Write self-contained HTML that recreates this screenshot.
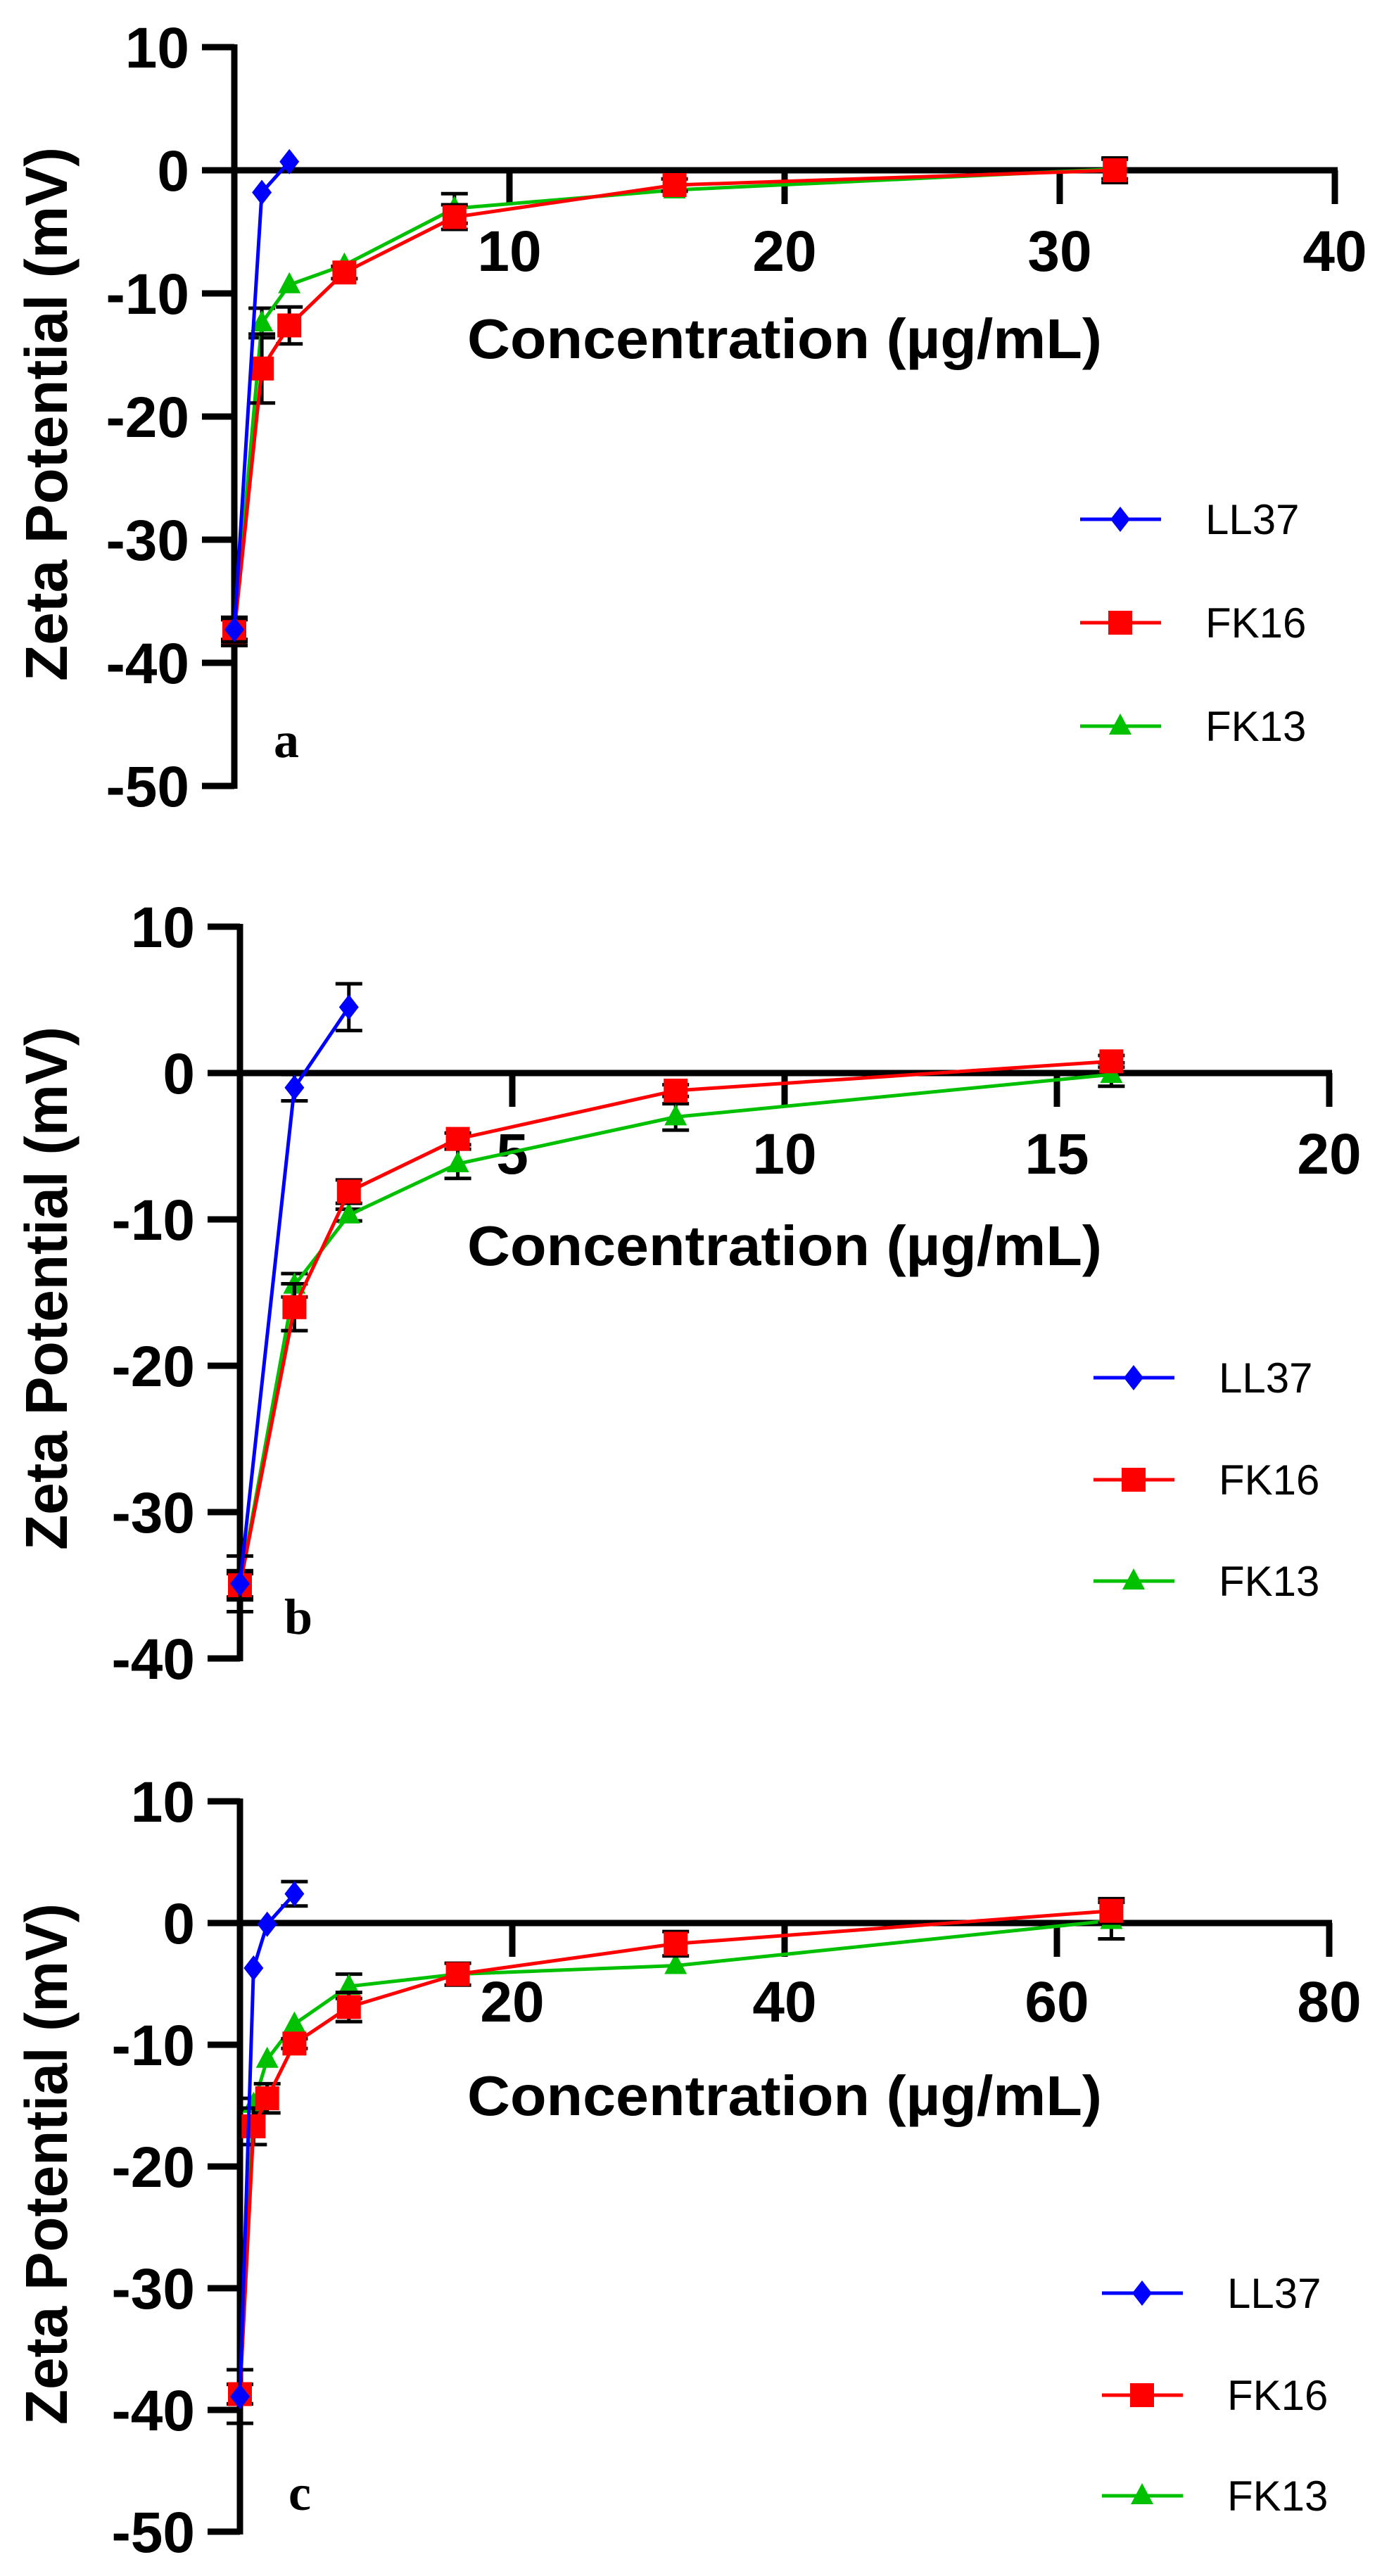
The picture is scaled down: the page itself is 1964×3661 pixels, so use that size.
<!DOCTYPE html>
<html><head><meta charset="utf-8"><style>
html,body{margin:0;padding:0;background:#fff;}
svg{display:block;}
text{font-family:"Liberation Sans",Arial,sans-serif;}
</style></head><body>
<svg id="fig" width="1964" height="3661" viewBox="0 0 1964 3661" xmlns="http://www.w3.org/2000/svg"></svg>
<script>
// ---------- Panel a data ----------
const aLL37X = [0, 1, 2];
const aLL37Y = [-37.3, -1.8, 0.7];
const aLL37E = [1.0, 0, 0];
const aFK16X = [0, 1, 2, 4, 8, 16, 32];
const aFK16Y = [-37.5, -16.1, -12.6, -8.3, -3.8, -1.2, 0.0];
const aFK16E = [1.1, 2.8, 1.5, 0.5, 1.0, 0.5, 1.0];
const aFK13X = [0, 1, 2, 4, 8, 16, 32];
const aFK13Y = [-37.3, -12.4, -9.3, -7.7, -3.1, -1.6, 0.1];
const aFK13E = [0.8, 1.2, 0, 0, 1.2, 0, 0.8];
const aXTicks = [10, 20, 30, 40];
const aYTicks = [10, 0, -10, -20, -30, -40, -50];

// ---------- Panel b data ----------
const bLL37X = [0, 1, 2];
const bLL37Y = [-34.9, -1.0, 4.5];
const bLL37E = [1.9, 0.9, 1.6];
const bFK16X = [0, 1, 2, 4, 8, 16];
const bFK16Y = [-35.0, -16.0, -8.1, -4.5, -1.2, 0.8];
const bFK16E = [1.0, 1.6, 0.8, 0.4, 0.4, 0.4];
const bFK13X = [0, 1, 2, 4, 8, 16];
const bFK13Y = [-35.0, -14.5, -9.7, -6.2, -3.0, -0.1];
const bFK13E = [0.8, 0.8, 0.4, 1.0, 0.9, 0.8];
const bXTicks = [5, 10, 15, 20];
const bYTicks = [10, 0, -10, -20, -30, -40];

// ---------- Panel c data ----------
const cLL37X = [0, 1, 2, 4];
const cLL37Y = [-38.9, -3.7, -0.1, 2.4];
const cLL37E = [2.2, 0, 0, 1.0];
const cFK16X = [0, 1, 2, 4, 8, 16, 32, 64];
const cFK16Y = [-38.7, -16.7, -14.4, -9.9, -6.9, -4.2, -1.7, 1.0];
const cFK16E = [0.8, 1.5, 1.2, 0.4, 1.2, 0.9, 1.0, 1.0];
const cFK13X = [0, 1, 2, 4, 8, 16, 32, 64];
const cFK13Y = [-38.7, -14.9, -11.2, -8.3, -5.2, -4.2, -3.5, 0.2];
const cFK13E = [0.8, 0.5, 0, 0, 1.0, 0, 0, 1.5];
const cXTicks = [20, 40, 60, 80];
const cYTicks = [10, 0, -10, -20, -30, -40, -50];

const NS = "http://www.w3.org/2000/svg";
const svg = document.getElementById('fig');
function mk(tag, attrs, parent) {
  const e = document.createElementNS(NS, tag);
  for (const k in attrs) e.setAttribute(k, attrs[k]);
  (parent || svg).appendChild(e);
  return e;
}

function panel(cfg) {
  const g = mk('g', {});
  
  
  const sx = v => cfg.x0 + v * (cfg.x1 - cfg.x0) / cfg.xmax;
  const sy = v => cfg.y0 + v * (cfg.yTop - cfg.y0) / cfg.ymaxTick;
  const yMin = Math.min(...cfg.yTicks), yMax = Math.max(...cfg.yTicks);
  const xMax = Math.max(...cfg.xTicks);

  const ya = mk('line', {x1: sx(0), x2: sx(0), y1: sy(yMax) - 4, y2: sy(yMin) + 4, stroke: '#000', 'stroke-width': 9}, g);
  
  
  cfg.yTicks.forEach(t => {
    const tk = mk('line', {x1: sx(0) - 46, x2: sx(0), y1: sy(t), y2: sy(t), stroke: '#000', 'stroke-width': 9}, g);
    
    
    const lb = mk('text', {x: sx(0) - 64, y: sy(t) + 29, 'text-anchor': 'end', 'font-size': 82, 'font-weight': 'bold', fill: '#000'}, g);
    lb.textContent = t;
    
    
  });
  const xa = mk('line', {x1: sx(0), x2: sx(xMax) + 4, y1: sy(0), y2: sy(0), stroke: '#000', 'stroke-width': 9}, g);
  
  
  cfg.xTicks.forEach(t => {
    const tk = mk('line', {x1: sx(t), x2: sx(t), y1: sy(0), y2: sy(0) + 48, stroke: '#000', 'stroke-width': 9}, g);
    
    
    const lb = mk('text', {x: sx(t), y: cfg.xLabY + 29, 'text-anchor': 'middle', 'font-size': 82, 'font-weight': 'bold', fill: '#000'}, g);
    lb.textContent = t;
    
    
  });
  const xt = mk('text', {x: 664, y: cfg.xTitleY + 27, 'font-size': 80, 'font-weight': 'bold', textLength: 902, lengthAdjust: 'spacingAndGlyphs', fill: '#000'}, g);
  xt.textContent = 'Concentration (µg/mL)';
  
  
  const yc = (cfg.yTitleTop + cfg.yTitleBot) / 2;
  const yt = mk('text', {x: 0, y: 0, 'text-anchor': 'middle', 'font-size': 84, 'font-weight': 'bold', textLength: cfg.yTitleBot - cfg.yTitleTop, lengthAdjust: 'spacingAndGlyphs', fill: '#000', transform: 'translate(95,' + yc + ') rotate(-90)'}, g);
  yt.textContent = 'Zeta Potential (mV)';
  
  
  const pl = mk('text', {x: cfg.letterX, y: cfg.letterY + 20, 'text-anchor': 'middle', 'font-size': 72, 'font-weight': 'bold', fill: '#000', style: 'font-family:"Liberation Serif",serif'}, g);
  pl.textContent = cfg.letter;
  
  

  function marker(shape, x, y, color, parent) {
    let m;
    if (shape === 'square') m = mk('rect', {x: x - 17, y: y - 17, width: 34, height: 34, fill: color}, parent);
    else if (shape === 'diamond') m = mk('polygon', {points: `${x},${y-18} ${x+14},${y} ${x},${y+18} ${x-14},${y}`, fill: color}, parent);
    else m = mk('polygon', {points: `${x},${y-18} ${x+16},${y+12} ${x-16},${y+12}`, fill: color}, parent);
    return m;
  }

  // draw in reverse so LL37 is on top
  cfg.series.slice().reverse().forEach(s => {
    const sg = mk('g', {}, g);
    
    
    s.x.forEach((xv, i) => {
      if (!s.e[i]) return;
      const X = sx(xv), Y1 = sy(s.y[i] + s.e[i]), Y2 = sy(s.y[i] - s.e[i]);
      const eb = mk('path', {d: `M${X},${Y1}V${Y2}M${X-19},${Y1}H${X+19}M${X-19},${Y2}H${X+19}`, stroke: '#000', 'stroke-width': 5, fill: 'none'}, sg);
      
      
    });
    const pts = s.x.map((xv, i) => sx(xv) + ',' + sy(s.y[i])).join(' ');
    const ln = mk('polyline', {points: pts, fill: 'none', stroke: s.color, 'stroke-width': 5}, sg);
    
    
    s.x.forEach((xv, i) => {
      const m = marker(s.shape, sx(xv), sy(s.y[i]), s.color, sg);
      
      
    });
  });
  const lg = mk('g', {}, g);
  
  
  cfg.series.forEach((s, i) => {
    const y = cfg.legY[i];
    const eg = mk('g', {}, lg);
    
    
    mk('line', {x1: cfg.legX, x2: cfg.legX + 115, y1: y, y2: y, stroke: s.color, 'stroke-width': 5}, eg);
    marker(s.shape, cfg.legX + 57, y, s.color, eg);
    const t = mk('text', {x: cfg.legX + 178, y: y + 21, 'font-size': 60, fill: '#000'}, eg);
    t.textContent = s.name;
  });
}

panel({letter: 'a', x0: 333, x1: 724, xmax: 10, y0: 242, yTop: 67, ymaxTick: 10,
  xTicks: aXTicks, yTicks: aYTicks, xLabY: 356, xTitleY: 482, yTitleTop: 209, yTitleBot: 968,
  letterX: 407, letterY: 1056, legX: 1535, legY: [738, 885, 1032],
  series: [
    {name: 'LL37', color: '#0000ff', shape: 'diamond', x: aLL37X, y: aLL37Y, e: aLL37E},
    {name: 'FK16', color: '#ff0000', shape: 'square', x: aFK16X, y: aFK16Y, e: aFK16E},
    {name: 'FK13', color: '#00c000', shape: 'triangle', x: aFK13X, y: aFK13Y, e: aFK13E}
  ]});
panel({letter: 'b', x0: 341, x1: 728, xmax: 5, y0: 1525, yTop: 1317, ymaxTick: 10,
  xTicks: bXTicks, yTicks: bYTicks, xLabY: 1639, xTitleY: 1771, yTitleTop: 1459, yTitleBot: 2203,
  letterX: 424, letterY: 2302, legX: 1554, legY: [1958, 2103, 2247],
  series: [
    {name: 'LL37', color: '#0000ff', shape: 'diamond', x: bLL37X, y: bLL37Y, e: bLL37E},
    {name: 'FK16', color: '#ff0000', shape: 'square', x: bFK16X, y: bFK16Y, e: bFK16E},
    {name: 'FK13', color: '#00c000', shape: 'triangle', x: bFK13X, y: bFK13Y, e: bFK13E}
  ]});
panel({letter: 'c', x0: 341, x1: 728, xmax: 20, y0: 2733, yTop: 2560, ymaxTick: 10,
  xTicks: cXTicks, yTicks: cYTicks, xLabY: 2844, xTitleY: 2979, yTitleTop: 2705, yTitleBot: 3446,
  letterX: 426, letterY: 3547, legX: 1566, legY: [3259, 3404, 3547],
  series: [
    {name: 'LL37', color: '#0000ff', shape: 'diamond', x: cLL37X, y: cLL37Y, e: cLL37E},
    {name: 'FK16', color: '#ff0000', shape: 'square', x: cFK16X, y: cFK16Y, e: cFK16E},
    {name: 'FK13', color: '#00c000', shape: 'triangle', x: cFK13X, y: cFK13Y, e: cFK13E}
  ]});
</script>
</body></html>
